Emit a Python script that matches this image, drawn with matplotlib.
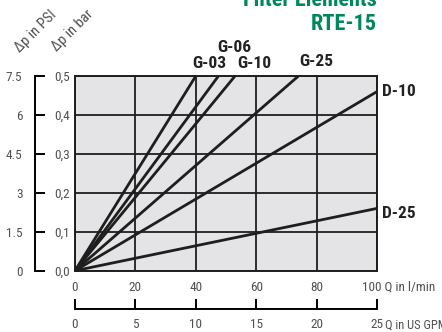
#! /usr/bin/python3
import matplotlib
matplotlib.use("Agg")
import matplotlib.pyplot as plt
from matplotlib import font_manager

# ---------- data ----------
flow_lmin = [0, 20, 40, 60, 80, 100]
flow_gpm = [0, 5, 10, 15, 20, 25]
dp_bar_ticks = [0.0, 0.1, 0.2, 0.3, 0.4, 0.5]
dp_bar_labels = ["0,0", "0,1", "0,2", "0,3", "0,4", "0,5"]
dp_psi_ticks = [0, 1.5, 3, 4.5, 6, 7.5]
dp_psi_labels = ["0", "1.5", "3", "4.5", "6", "7.5"]

# each element: straight line from origin to end point (Q l/min, dp bar)
elements = ["G-03", "G-06", "G-10", "G-25", "D-10", "D-25"]
end_q = [40, 47.5, 53, 74, 100, 100]
end_dp = [0.5, 0.5, 0.5, 0.5, 0.46, 0.16]

# ---------- fonts ----------
names = set(f.name for f in font_manager.fontManager.ttflist)
narrow = "DejaVu Sans"
for cand in ["Roboto Condensed", "Archivo Narrow", "Barlow Condensed"]:
    if cand in names:
        narrow = cand
        break
green = "#00875a"
grey_txt = "#505050"
lab_size = 9.5

W, H = 442, 332
fig = plt.figure(figsize=(W / 100, H / 100), dpi=100)

def px(x0, y0, x1, y1):
    # pixel box (top-left origin) -> figure fraction
    return [x0 / W, 1 - y1 / H, (x1 - x0) / W, (y1 - y0) / H]

#-------------------------------------------#
#   main plot                               #
#-------------------------------------------#
ax = fig.add_axes(px(75, 76, 377, 270.7))
ax.set_facecolor("#e4e4e6")
for i in range(len(elements)):
    ax.plot([0, end_q[i]], [0, end_dp[i]], color="#1e1e1e", lw=2.0,
            solid_capstyle="butt", clip_on=False, zorder=3)
ax.set_xlim(0, 100)
ax.set_ylim(0, 0.5)
ax.set_xticks(flow_lmin)
ax.set_xticklabels([str(v) for v in flow_lmin], family=narrow)
ax.set_yticks(dp_bar_ticks)
ax.set_yticklabels(dp_bar_labels, family=narrow)
ax.grid(True, color="#1e1e1e", lw=1.3)
ax.tick_params(length=0, labelsize=lab_size, labelcolor=grey_txt)
ax.tick_params(axis="x", pad=7.5)
ax.tick_params(axis="y", pad=3.5)
for s in ax.spines.values():
    s.set_linewidth(1.4)
    s.set_color("#1e1e1e")
# last l/min label goes together with the unit text
ax.get_xticklabels()[-1].set_visible(False)
fig.text(362 / W, 1 - 287.5 / H, "100 Q in l/min", fontsize=lab_size, color=grey_txt,
         family=narrow, va="center", ha="left")

# element labels
lab_pos = {"G-03": (209, 63), "G-06": (234, 47), "G-10": (254, 63),
           "G-25": (316, 62), "D-10": (399, 91), "D-25": (399, 213)}
for name in elements:
    x, y = lab_pos[name]
    fig.text(x / W, 1 - y / H, name, fontsize=12.5, fontweight="bold", family=narrow,
             color="#222222", ha="center", va="center")

#-------------------------------------------#
#   PSI bracket axis                        #
#-------------------------------------------#
axp = fig.add_axes(px(35, 76, 60, 270.7))
axp.set_ylim(0, 7.5)
axp.patch.set_visible(False)
for k in ["top", "right", "bottom"]:
    axp.spines[k].set_visible(False)
axp.spines["left"].set_linewidth(1.4)
axp.set_xticks([])
axp.set_yticks(dp_psi_ticks)
axp.set_yticklabels(dp_psi_labels, family=narrow)
axp.tick_params(axis="y", direction="in", length=7, width=1.4, labelsize=lab_size,
                labelcolor=grey_txt, pad=9)

#-------------------------------------------#
#   GPM axis below                          #
#-------------------------------------------#
axg = fig.add_axes(px(75, 295, 377, 309))
axg.set_xlim(0, 25)
axg.patch.set_visible(False)
for k in ["top", "right", "left"]:
    axg.spines[k].set_visible(False)
axg.spines["bottom"].set_linewidth(1.4)
axg.set_yticks([])
axg.set_xticks(flow_gpm)
axg.set_xticklabels([str(v) for v in flow_gpm], family=narrow)
axg.tick_params(axis="x", direction="in", length=7, width=1.4, labelsize=lab_size,
                labelcolor=grey_txt, pad=6.5)
fig.text(385 / W, 1 - 325 / H, "Q in US GPM", fontsize=9, color=grey_txt,
         family=narrow, va="center", ha="left")

# rotated axis titles
fig.text(36 / W, 1 - 31 / H, "\u0394p in PSI", rotation=45, fontsize=10.5, color=grey_txt,
         family=narrow, ha="center", va="center")
fig.text(73 / W, 1 - 31 / H, "\u0394p in bar", rotation=45, fontsize=10.5, color=grey_txt,
         family=narrow, ha="center", va="center")

# title, upper line cut off by the image edge
fig.text(377 / W, 1 - 6 / H, "Filter Elements", fontsize=16, fontweight="bold",
         family=narrow, color=green, ha="right", va="baseline")
fig.text(377 / W, 1 - 30 / H, "RTE-15", fontsize=16, fontweight="bold",
         family=narrow, color=green, ha="right", va="baseline")

fig.savefig("out.png", dpi=100)
